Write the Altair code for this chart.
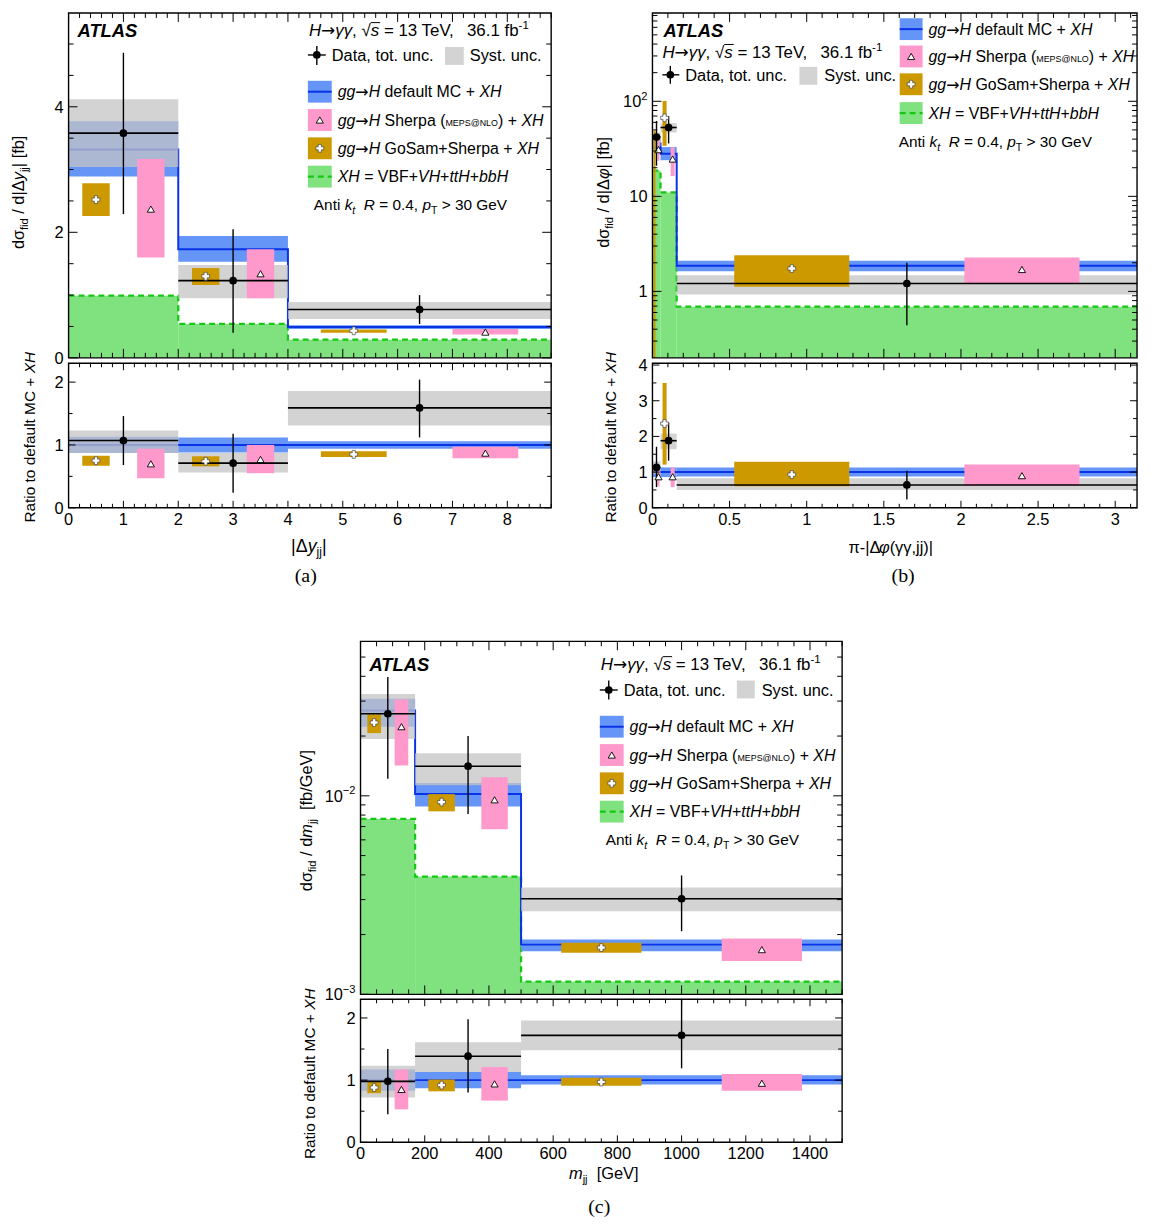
import math
import numpy as np
import pandas as pd
import altair as alt

# ====================== DATA ======================
# ---- (a) |Delta y_jj| ----
A_edges = [0.0, 2.0, 4.0, 8.8]
A_data = [3.58, 1.23, 0.77]
A_data_lo = [2.29, 0.40, 0.54]
A_data_hi = [4.86, 2.05, 1.00]
A_syst_lo = [3.04, 0.95, 0.62]
A_syst_hi = [4.12, 1.48, 0.89]
A_mc = [3.32, 1.73, 0.49]
A_mc_lo = [2.89, 1.53, 0.46]
A_mc_hi = [3.77, 1.94, 0.52]
A_sherpa = [2.37, 1.34, 0.41]
A_sherpa_lo = [1.60, 0.95, 0.37]
A_sherpa_hi = [3.17, 1.73, 0.46]
A_gosam = [2.52, 1.30, 0.43]
A_gosam_lo = [2.26, 1.16, 0.40]
A_gosam_hi = [2.78, 1.43, 0.45]
A_xh = [0.99, 0.54, 0.29]
A_r_data = [1.07, 0.71, 1.59]
A_r_data_lo = [0.68, 0.24, 1.12]
A_r_data_hi = [1.46, 1.18, 2.04]
A_r_syst_lo = [0.87, 0.56, 1.31]
A_r_syst_hi = [1.23, 0.87, 1.86]
A_r_mc_lo = [0.87, 0.88, 0.94]
A_r_mc_hi = [1.13, 1.12, 1.06]
A_r_sherpa = [0.70, 0.77, 0.87]
A_r_sherpa_lo = [0.47, 0.55, 0.79]
A_r_sherpa_hi = [0.94, 1.00, 0.97]
A_r_gosam = [0.75, 0.74, 0.85]
A_r_gosam_lo = [0.67, 0.66, 0.81]
A_r_gosam_hi = [0.83, 0.82, 0.90]
A_xticks = [0, 1, 2, 3, 4, 5, 6, 7, 8]
A_xlabels = ["0", "1", "2", "3", "4", "5", "6", "7", "8"]
A_yticks = [0, 2, 4]
A_ylabels = ["0", "2", "4"]
A_rticks = [0, 1, 2]
A_rlabels = ["0", "1", "2"]

# ---- (b) pi - |Delta phi(gg, jj)| ----
B_edges = [0.0, math.pi / 60, math.pi / 20, math.pi]
B_data = [42.0, 53.0, 1.21]
B_data_lo = [21.0, 36.0, 0.44]
B_data_hi = [62.0, 70.0, 2.00]
B_syst_lo = [34.0, 47.0, 0.93]
B_syst_hi = [47.0, 59.0, 1.48]
B_mc = [36.0, 28.0, 1.86]
B_mc_lo = [31.0, 24.0, 1.63]
B_mc_hi = [41.0, 33.0, 2.10]
B_sherpa = [31.0, 24.7, 1.70]
B_sherpa_lo = [23.7, 16.4, 1.21]
B_sherpa_hi = [40.0, 32.8, 2.27]
B_gosam = [None, 67.0, 1.74]
B_gosam_lo = [0.2, 34.0, 1.12]
B_gosam_hi = [49.0, 101.0, 2.40]
B_xh = [18.6, 11.0, 0.69]
B_r_data = [1.13, 1.88, 0.64]
B_r_data_lo = [0.58, 1.32, 0.23]
B_r_data_hi = [1.71, 2.39, 1.04]
B_r_syst_lo = [0.95, 1.64, 0.50]
B_r_syst_hi = [1.30, 2.08, 0.83]
B_r_mc_lo = [0.86, 0.86, 0.88]
B_r_mc_hi = [1.13, 1.13, 1.13]
B_r_sherpa = [0.87, 0.87, 0.90]
B_r_sherpa_lo = [0.60, 0.58, 0.62]
B_r_sherpa_hi = [1.09, 1.13, 1.21]
B_r_gosam = [None, 2.36, 0.93]
B_r_gosam_lo = [None, 1.21, 0.60]
B_r_gosam_hi = [None, 3.50, 1.29]
B_xticks = [0, 0.5, 1, 1.5, 2, 2.5, 3]
B_xlabels = ["0", "0.5", "1", "1.5", "2", "2.5", "3"]
B_yticks = [1, 10, 100]
B_ylab_base = ["1", "10", "10"]
B_ylab_exp = ["", "", "2"]
B_rticks = [0, 1, 2, 3, 4]
B_rlabels = ["0", "1", "2", "3", "4"]

# ---- (c) m_jj ----
C_edges = [0.0, 170.0, 500.0, 1500.0]
C_data = [0.0259, 0.0141, 0.00303]
C_data_lo = [0.0122, 0.0081, 0.00208]
C_data_hi = [0.0397, 0.0200, 0.00397]
C_syst_lo = [0.0193, 0.0113, 0.00262]
C_syst_hi = [0.0326, 0.0164, 0.00345]
C_mc = [0.0269, 0.0102, 0.00178]
C_mc_lo = [0.0223, 0.00884, 0.00165]
C_mc_hi = [0.0308, 0.0116, 0.00189]
C_sherpa = [0.0223, 0.00955, 0.00168]
C_sherpa_lo = [0.0142, 0.00678, 0.00147]
C_sherpa_hi = [0.0306, 0.0124, 0.00191]
C_gosam = [0.0234, 0.0093, 0.00172]
C_gosam_lo = [0.0207, 0.00835, 0.00162]
C_gosam_hi = [0.0257, 0.0102, 0.00182]
C_xh = [0.00765, 0.00392, 0.00116]
C_r_data = [0.98, 1.385, 1.72]
C_r_data_lo = [0.45, 0.80, 1.19]
C_r_data_hi = [1.50, 1.98, 2.31]
C_r_syst_lo = [0.72, 1.13, 1.48]
C_r_syst_hi = [1.23, 1.61, 1.96]
C_r_mc_lo = [0.83, 0.87, 0.93]
C_r_mc_hi = [1.17, 1.13, 1.08]
C_r_sherpa = [0.85, 0.94, 0.95]
C_r_sherpa_lo = [0.53, 0.67, 0.83]
C_r_sherpa_hi = [1.17, 1.21, 1.10]
C_r_gosam = [0.88, 0.92, 0.97]
C_r_gosam_lo = [0.79, 0.82, 0.91]
C_r_gosam_hi = [0.97, 1.01, 1.04]
C_xticks = [0, 200, 400, 600, 800, 1000, 1200, 1400]
C_xlabels = ["0", "200", "400", "600", "800", "1000", "1200", "1400"]
C_yticks = [0.001, 0.01]
C_ylab_base = ["10", "10"]
C_ylab_exp = ["\u22123", "\u22122"]
C_rticks = [0, 1, 2]
C_rlabels = ["0", "1", "2"]

MC_RATIO = [1.0, 1.0, 1.0]

# ====================== STYLE ======================
FONT = "Liberation Sans"
SERIF = "Liberation Serif"
ARROWFONT = "DejaVu Sans"
FS = 16.5
LFS = 16.0
BLUE_BAND = "#6495f7"
BLUE_LINE = "#0a32e6"
GRAY = "#c4c4c4"
PINK = "#ff99cc"
GOLD = "#cc9900"
GREEN_FILL = "#80e27e"
GREEN_LINE = "#14c814"
TRI_SIZE = 52
CROSS_SIZE = 62

OX, OY = 8.0, 8.0  # reference-page pixel -> view pixel


def px(x):
    return x - OX


def py(y):
    return y - OY


DUMMY = pd.DataFrame({"d": [0]})
LAYERS = []

CW = {' ': .278, '!': .278, '(': .333, ')': .333, '+': .584, ',': .278, '-': .333, '.': .278, '/': .278,
      '=': .584, '>': .584, '@': 1.015, '[': .278, ']': .278, '|': .26,
      'A': .667, 'B': .667, 'C': .722, 'D': .722, 'E': .667, 'F': .611, 'G': .778, 'H': .722, 'I': .278,
      'J': .5, 'K': .667, 'L': .556, 'M': .833, 'N': .722, 'O': .778, 'P': .667, 'Q': .778, 'R': .722,
      'S': .667, 'T': .611, 'U': .722, 'V': .667, 'W': .944, 'X': .667, 'Y': .667, 'Z': .611,
      'a': .556, 'b': .556, 'c': .5, 'd': .556, 'e': .556, 'f': .278, 'g': .556, 'h': .556, 'i': .222,
      'j': .222, 'k': .5, 'l': .222, 'm': .833, 'n': .556, 'o': .556, 'p': .556, 'q': .556, 'r': .333,
      's': .5, 't': .278, 'u': .556, 'v': .5, 'w': .722, 'x': .5, 'y': .5, 'z': .5,
      '\u2192': .838, '\u03b3': .5, '\u03c3': .6, '\u0394': .668, '\u03c6': .65, '\u03c0': .6,
      '\u221a': .549, '\u2212': .584}


def tw(s, fs):
    return sum(CW.get(c, .556) for c in s) * fs


KIND = {
    "n": (1.0, 0.0, "normal", "normal"),
    "arr": (1.0, 0.0, "normal", "normal"),
    "i": (1.0, 0.0, "italic", "normal"),
    "bi": (1.0, 0.0, "italic", "bold"),
    "sub": (0.68, 0.25, "normal", "normal"),
    "subi": (0.68, 0.25, "italic", "normal"),
    "sup": (0.68, -0.42, "normal", "normal"),
    "sc": (0.56, 0.0, "normal", "normal"),
}


def T(s, x, y, fs, style="normal", weight="normal", angle=0, font=FONT):
    kw = dict(text=s, font=font, fontSize=fs, fontStyle=style, fontWeight=weight,
              align="left", baseline="alphabetic", color="black")
    if angle:
        kw["angle"] = angle
    return alt.Chart(DUMMY).mark_text(**kw).encode(x=alt.value(px(x)), y=alt.value(py(y)))


def rich(segs, x, y, size, anchor="left", rotate=False, font=FONT):
    """Lay out a line of mixed-style text. Returns (start, width) of each piece."""
    total = sum(tw(s, size * KIND[k][0]) for s, k in segs)
    shift = {"left": 0.0, "center": total / 2, "right": total}[anchor]
    starts = []
    if not rotate:
        cx = x - shift
        base = y + 0.355 * size
    else:
        cy = y + shift
        base = x + 0.355 * size
    for s, k in segs:
        r, d, st, wt = KIND[k]
        fs = size * r
        f = ARROWFONT if k == "arr" else font
        lead = len(s) - len(s.lstrip(" "))
        if not rotate:
            starts.append((cx, tw(s, fs)))
            if s.strip():
                LAYERS.append(T(s.strip(), cx + lead * CW[" "] * fs, base + d * size, fs, st, wt, font=f))
            cx += tw(s, fs)
        else:
            if s.strip():
                LAYERS.append(T(s.strip(), base + d * size, cy - lead * CW[" "] * fs, fs, st, wt,
                                angle=270, font=f))
            cy -= tw(s, fs)
    return starts


def make_scales(xdom, rect, ydom, log=False):
    xs = alt.Scale(domain=xdom, range=[px(rect[0]), px(rect[2])], nice=False, zero=False, clamp=True)
    if log:
        ys = alt.Scale(type="log", domain=ydom, range=[py(rect[3]), py(rect[1])], nice=False, clamp=True)
    else:
        ys = alt.Scale(domain=ydom, range=[py(rect[3]), py(rect[1])], nice=False, zero=False, clamp=True)
    return xs, ys


def hist_layers(edges, xs, ys, rect, v, xh=None, mc_line=None):
    e = np.asarray(edges, dtype=float)
    w = np.diff(e)
    df = pd.DataFrame({"x0": e[:-1], "x1": e[1:], "xc": e[:-1] + w / 2,
                       "g0": e[:-1] + 0.125 * w, "g1": e[:-1] + 0.375 * w, "gc": e[:-1] + 0.25 * w,
                       "p0": e[:-1] + 0.625 * w, "p1": e[:-1] + 0.875 * w, "pc": e[:-1] + 0.75 * w})
    for k, arr in v.items():
        df[k] = np.array([np.nan if a is None else a for a in arr], dtype=float)

    def sub(cols):
        return df[cols].dropna()

    def XX(f):
        return alt.X(f"{f}:Q", scale=xs, axis=None)

    def YY(f):
        return alt.Y(f"{f}:Q", scale=ys, axis=None)

    bottom = py(rect[3])
    if xh is not None:
        df["xh"] = xh
        LAYERS.append(alt.Chart(sub(["x0", "x1", "xh"])).mark_rect(color=GREEN_FILL).encode(
            x=XX("x0"), x2="x1", y=YY("xh"), y2=alt.value(bottom)))
        st = pd.DataFrame({"e": e, "v": list(xh) + [xh[-1]]})
        LAYERS.append(alt.Chart(st).mark_line(interpolate="step-after", color=GREEN_LINE, strokeWidth=2.3,
                                              strokeDash=[6, 4]).encode(x=XX("e"), y=YY("v")))
    LAYERS.append(alt.Chart(sub(["x0", "x1", "mlo", "mhi"])).mark_rect(color=BLUE_BAND).encode(
        x=XX("x0"), x2="x1", y=YY("mlo"), y2="mhi"))
    st = pd.DataFrame({"e": e, "v": list(mc_line) + [mc_line[-1]]})
    LAYERS.append(alt.Chart(st).mark_line(interpolate="step-after", color=BLUE_LINE, strokeWidth=2).encode(
        x=XX("e"), y=YY("v")))
    LAYERS.append(alt.Chart(sub(["x0", "x1", "slo", "shi"])).mark_rect(color=GRAY, opacity=0.75).encode(
        x=XX("x0"), x2="x1", y=YY("slo"), y2="shi"))
    LAYERS.append(alt.Chart(sub(["g0", "g1", "glo", "ghi"])).mark_rect(color=GOLD).encode(
        x=XX("g0"), x2="g1", y=YY("glo"), y2="ghi"))
    LAYERS.append(alt.Chart(sub(["p0", "p1", "plo", "phi"])).mark_rect(color=PINK).encode(
        x=XX("p0"), x2="p1", y=YY("plo"), y2="phi"))
    LAYERS.append(alt.Chart(sub(["x0", "x1", "d"])).mark_rule(color="black", strokeWidth=1.6).encode(
        x=XX("x0"), x2="x1", y=YY("d")))
    LAYERS.append(alt.Chart(sub(["xc", "dlo", "dhi"])).mark_rule(color="black", strokeWidth=1.4).encode(
        x=XX("xc"), y=YY("dlo"), y2="dhi"))
    LAYERS.append(alt.Chart(sub(["gc", "g"])).mark_point(shape="cross", filled=True, fill="white",
                                                         stroke="#444444", strokeWidth=0.7, size=CROSS_SIZE,
                                                         opacity=1).encode(x=XX("gc"), y=YY("g")))
    LAYERS.append(alt.Chart(sub(["pc", "p"])).mark_point(shape="triangle-up", filled=True, fill="white",
                                                         stroke="black", strokeWidth=0.9, size=TRI_SIZE,
                                                         opacity=1).encode(x=XX("pc"), y=YY("p")))
    LAYERS.append(alt.Chart(sub(["xc", "d"])).mark_circle(color="black", size=60, opacity=1).encode(
        x=XX("xc"), y=YY("d")))


def frame_and_ticks(xs, ys, rect, xmaj, xmin, ymaj, ymin, lmaj, lmin):
    x0, y0, x1, y1 = px(rect[0]), py(rect[1]), px(rect[2]), py(rect[3])
    for vals, L in ((xmaj, lmaj), (xmin, lmin)):
        d = pd.DataFrame({"t": vals})
        LAYERS.append(alt.Chart(d).mark_rule(color="black", strokeWidth=1).encode(
            x=alt.X("t:Q", scale=xs, axis=None), y=alt.value(y1), y2=alt.value(y1 - L)))
        LAYERS.append(alt.Chart(d).mark_rule(color="black", strokeWidth=1).encode(
            x=alt.X("t:Q", scale=xs, axis=None), y=alt.value(y0), y2=alt.value(y0 + L)))
    for vals, L in ((ymaj, lmaj), (ymin, lmin)):
        d = pd.DataFrame({"t": vals})
        LAYERS.append(alt.Chart(d).mark_rule(color="black", strokeWidth=1).encode(
            y=alt.Y("t:Q", scale=ys, axis=None), x=alt.value(x0), x2=alt.value(x0 + L)))
        LAYERS.append(alt.Chart(d).mark_rule(color="black", strokeWidth=1).encode(
            y=alt.Y("t:Q", scale=ys, axis=None), x=alt.value(x1 - L), x2=alt.value(x1)))
    LAYERS.append(alt.Chart(DUMMY).mark_rect(fillOpacity=0, stroke="black", strokeWidth=1.4).encode(
        x=alt.value(x0), x2=alt.value(x1), y=alt.value(y0), y2=alt.value(y1)))


def xlabels(xs, rect, ticks, labels):
    d = pd.DataFrame({"t": ticks, "lab": labels})
    LAYERS.append(alt.Chart(d).mark_text(font=FONT, fontSize=FS, align="center", baseline="alphabetic",
                                         color="black").encode(
        x=alt.X("t:Q", scale=xs, axis=None), y=alt.value(py(rect[3] + 11 + 0.355 * FS)), text="lab:N"))


def ylabels(ys, rect, ticks, labels):
    d = pd.DataFrame({"t": ticks, "lab": labels})
    LAYERS.append(alt.Chart(d).mark_text(font=FONT, fontSize=FS, align="right", baseline="alphabetic",
                                         dy=0.355 * FS, color="black").encode(
        x=alt.value(px(rect[0] - 5)), y=alt.Y("t:Q", scale=ys, axis=None), text="lab:N"))


def ylabels_exp(ys, rect, ticks, bases, exps):
    for t, b, ex in zip(ticks, bases, exps):
        d = pd.DataFrame({"t": [t]})
        wexp = tw(ex, FS * 0.68)
        xr = px(rect[0] - 5 - wexp)
        LAYERS.append(alt.Chart(d).mark_text(text=b, font=FONT, fontSize=FS, align="right",
                                             baseline="alphabetic", dy=0.355 * FS, color="black").encode(
            x=alt.value(xr), y=alt.Y("t:Q", scale=ys, axis=None)))
        if ex:
            LAYERS.append(alt.Chart(d).mark_text(text=ex, font=FONT, fontSize=FS * 0.68, align="left",
                                                 baseline="alphabetic", dy=-0.1 * FS, color="black").encode(
                x=alt.value(xr), y=alt.Y("t:Q", scale=ys, axis=None)))


def minor(lo, hi, step, major):
    vals = np.round(np.arange(lo, hi + 1e-9, step), 6)
    return [float(v) for v in vals if not any(abs(v - m) < 1e-9 for m in major)]


def log_minor(lo, hi):
    out = []
    for k in range(-4, 4):
        for m in range(2, 10):
            v = m * 10.0 ** k
            if lo < v < hi:
                out.append(v)
    return out


def legend_models(x0, x1, ys_c, tx, half=11):
    cols = [BLUE_BAND, PINK, GOLD, GREEN_FILL]
    for c, yc in zip(cols, ys_c):
        LAYERS.append(alt.Chart(DUMMY).mark_rect(color=c).encode(
            x=alt.value(px(x0)), x2=alt.value(px(x1)), y=alt.value(py(yc - half)), y2=alt.value(py(yc + half))))
    xm = (x0 + x1) / 2
    LAYERS.append(alt.Chart(DUMMY).mark_rule(color=BLUE_LINE, strokeWidth=2).encode(
        x=alt.value(px(x0)), x2=alt.value(px(x1)), y=alt.value(py(ys_c[0]))))
    LAYERS.append(alt.Chart(DUMMY).mark_point(shape="triangle-up", filled=True, fill="white", stroke="black",
                                              strokeWidth=0.9, size=TRI_SIZE, opacity=1).encode(
        x=alt.value(px(xm)), y=alt.value(py(ys_c[1]))))
    LAYERS.append(alt.Chart(DUMMY).mark_point(shape="cross", filled=True, fill="white", stroke="#444444",
                                              strokeWidth=0.7, size=CROSS_SIZE, opacity=1).encode(
        x=alt.value(px(xm)), y=alt.value(py(ys_c[2]))))
    LAYERS.append(alt.Chart(DUMMY).mark_rule(color=GREEN_LINE, strokeWidth=2.3, strokeDash=[6, 4]).encode(
        x=alt.value(px(x0)), x2=alt.value(px(x1)), y=alt.value(py(ys_c[3]))))
    texts = [
        [("gg", "i"), ("\u2192", "arr"), ("H", "i"), (" default MC + ", "n"), ("XH", "i")],
        [("gg", "i"), ("\u2192", "arr"), ("H", "i"), (" Sherpa (", "n"), ("MEPS@NLO", "sc"), (") + ", "n"),
         ("XH", "i")],
        [("gg", "i"), ("\u2192", "arr"), ("H", "i"), (" GoSam+Sherpa + ", "n"), ("XH", "i")],
        [("XH", "i"), (" = VBF+", "n"), ("VH", "i"), ("+", "n"), ("ttH", "i"), ("+", "n"), ("bbH", "i")],
    ]
    for segs, yc in zip(texts, ys_c):
        rich(segs, tx, yc, LFS)


def legend_data(cx, cy, hx0, hx1, vy0, vy1, tx, bx0, bx1, by0, by1, stx):
    LAYERS.append(alt.Chart(DUMMY).mark_rule(color="black", strokeWidth=1.4).encode(
        x=alt.value(px(hx0)), x2=alt.value(px(hx1)), y=alt.value(py(cy))))
    LAYERS.append(alt.Chart(DUMMY).mark_rule(color="black", strokeWidth=1.4).encode(
        x=alt.value(px(cx)), y=alt.value(py(vy0)), y2=alt.value(py(vy1))))
    LAYERS.append(alt.Chart(DUMMY).mark_circle(color="black", size=60, opacity=1).encode(
        x=alt.value(px(cx)), y=alt.value(py(cy))))
    rich([("Data, tot. unc.", "n")], tx, cy, FS)
    LAYERS.append(alt.Chart(DUMMY).mark_rect(color=GRAY, opacity=0.75).encode(
        x=alt.value(px(bx0)), x2=alt.value(px(bx1)), y=alt.value(py(by0)), y2=alt.value(py(by1))))
    rich([("Syst. unc.", "n")], stx, cy, FS)


HEADER = [("H", "i"), ("\u2192", "arr"), ("\u03b3\u03b3", "i"), (", ", "n"), ("\u221a", "n"), ("s", "i"),
          (" = 13 TeV,", "n"), ("  36.1 fb", "n"), ("-1", "sup")]
ANTIKT = [("Anti ", "n"), ("k", "i"), ("t", "subi"), ("  ", "n"), ("R", "i"), (" = 0.4, ", "n"), ("p", "i"),
          ("T", "sub"), (" > 30 GeV", "n")]
RATIO_TITLE = [("Ratio to default MC + ", "n"), ("XH", "i")]


def header(x, yc, size=17):
    starts = rich(HEADER, x, yc, size)
    sx, sw = starts[5]          # the "s" under the square root
    top = yc + 0.355 * size - 0.80 * size
    LAYERS.append(alt.Chart(DUMMY).mark_rule(color="black", strokeWidth=1).encode(
        x=alt.value(px(sx)), x2=alt.value(px(sx + sw + 1)), y=alt.value(py(top))))


def panel(edges, xdom, mrect, rrect, ydom, ylog, rdom, main_v, ratio_v, xh, mc):
    xs, ys = make_scales(xdom, mrect, ydom, ylog)
    hist_layers(edges, xs, ys, mrect, main_v, xh=xh, mc_line=mc)
    xr, yr = make_scales(xdom, rrect, rdom, False)
    hist_layers(edges, xr, yr, rrect, ratio_v, xh=None, mc_line=MC_RATIO)
    return xs, ys, xr, yr


def vals(d, dlo, dhi, slo, shi, mlo, mhi, p, plo, phi, g, glo, ghi):
    return {"d": d, "dlo": dlo, "dhi": dhi, "slo": slo, "shi": shi, "mlo": mlo, "mhi": mhi,
            "p": p, "plo": plo, "phi": phi, "g": g, "glo": glo, "ghi": ghi}


# ====================== PANEL (a) ======================
A_main = (69, 8.7, 555, 356)
A_rat = (69, 361.5, 555, 507)
xs, ys, xr, yr = panel(A_edges, [0, 8.8], A_main, A_rat, [0, 5.495], False, [0, 2.3],
                       vals(A_data, A_data_lo, A_data_hi, A_syst_lo, A_syst_hi, A_mc_lo, A_mc_hi,
                            A_sherpa, A_sherpa_lo, A_sherpa_hi, A_gosam, A_gosam_lo, A_gosam_hi),
                       vals(A_r_data, A_r_data_lo, A_r_data_hi, A_r_syst_lo, A_r_syst_hi, A_r_mc_lo, A_r_mc_hi,
                            A_r_sherpa, A_r_sherpa_lo, A_r_sherpa_hi, A_r_gosam, A_r_gosam_lo, A_r_gosam_hi),
                       A_xh, A_mc)
a_xmin = minor(0, 8.8, 0.2, A_xticks)
frame_and_ticks(xs, ys, A_main, A_xticks, a_xmin, A_yticks, minor(0, 5.4, 0.5, A_yticks), 9, 5)
frame_and_ticks(xr, yr, A_rat, A_xticks, a_xmin, A_rticks, minor(0, 2.3, 0.5, A_rticks), 7, 4)
xlabels(xr, A_rat, A_xticks, A_xlabels)
ylabels(ys, A_main, A_yticks, A_ylabels)
ylabels(yr, A_rat, A_rticks, A_rlabels)
LAYERS.append(T("ATLAS", 78, 26 + 0.355 * 18.5, 18.5, "italic", "bold"))
header(311, 26)
legend_data(319, 51, 310, 328, 42, 61, 334, 448, 467, 43, 61, 473)
legend_models(310, 334, [88, 116.5, 145, 173.5], 340)
rich(ANTIKT, 316, 202, 15.5)
rich([("d\u03c3", "n"), ("fid", "sub"), (" / d|\u0394", "n"), ("y", "i"), ("jj", "sub"), ("|  [fb]", "n")],
     18, 187, FS, anchor="center", rotate=True)
rich(RATIO_TITLE, 30, 436, 15.5, anchor="center", rotate=True)
rich([("|\u0394", "n"), ("y", "i"), ("jj", "sub"), ("|", "n")], 311, 545, 18, anchor="center")
rich([("(a)", "n")], 309, 575, 20, anchor="center", font=SERIF)

# ====================== PANEL (b) ======================
B_main = (657, 8.7, 1145, 356)
B_rat = (657, 361.5, 1145, 507)
xs, ys, xr, yr = panel(B_edges, [0, math.pi], B_main, B_rat, [0.2, 850], True, [0, 4.05],
                       vals(B_data, B_data_lo, B_data_hi, B_syst_lo, B_syst_hi, B_mc_lo, B_mc_hi,
                            B_sherpa, B_sherpa_lo, B_sherpa_hi, B_gosam, B_gosam_lo, B_gosam_hi),
                       vals(B_r_data, B_r_data_lo, B_r_data_hi, B_r_syst_lo, B_r_syst_hi, B_r_mc_lo, B_r_mc_hi,
                            B_r_sherpa, B_r_sherpa_lo, B_r_sherpa_hi, B_r_gosam, B_r_gosam_lo, B_r_gosam_hi),
                       B_xh, B_mc)
b_xmin = minor(0, 3.1, 0.1, B_xticks)
frame_and_ticks(xs, ys, B_main, B_xticks, b_xmin, B_yticks, log_minor(0.2, 850), 9, 5)
frame_and_ticks(xr, yr, B_rat, B_xticks, b_xmin, B_rticks, minor(0, 4.0, 0.5, B_rticks), 7, 4)
xlabels(xr, B_rat, B_xticks, B_xlabels)
ylabels_exp(ys, B_main, B_yticks, B_ylab_base, B_ylab_exp)
ylabels(yr, B_rat, B_rticks, B_rlabels)
LAYERS.append(T("ATLAS", 668, 26 + 0.355 * 18.5, 18.5, "italic", "bold"))
header(667, 48)
legend_data(675, 71, 667, 684, 62, 80, 690, 805, 823, 63, 81, 830)
legend_models(906, 929, [25, 52.5, 80.5, 109.5], 935)
rich(ANTIKT, 905, 138, 15.5)
rich([("d\u03c3", "n"), ("fid", "sub"), (" / d|\u0394", "n"), ("\u03c6", "i"), ("|  [fb]", "n")],
     607, 187, FS, anchor="center", rotate=True)
rich(RATIO_TITLE, 615, 436, 15.5, anchor="center", rotate=True)
rich([("\u03c0-|\u0394", "n"), ("\u03c6", "i"), ("(\u03b3\u03b3,jj)|", "n")], 897, 547, 16.5, anchor="center")
rich([("(b)", "n")], 910, 575, 20, anchor="center", font=SERIF)

# ====================== PANEL (c) ======================
C_main = (363, 641.5, 848, 997)
C_rat = (363, 1002, 848, 1146)
xs, ys, xr, yr = panel(C_edges, [0, 1500], C_main, C_rat, [0.001, 0.06], True, [0, 2.3],
                       vals(C_data, C_data_lo, C_data_hi, C_syst_lo, C_syst_hi, C_mc_lo, C_mc_hi,
                            C_sherpa, C_sherpa_lo, C_sherpa_hi, C_gosam, C_gosam_lo, C_gosam_hi),
                       vals(C_r_data, C_r_data_lo, C_r_data_hi, C_r_syst_lo, C_r_syst_hi, C_r_mc_lo, C_r_mc_hi,
                            C_r_sherpa, C_r_sherpa_lo, C_r_sherpa_hi, C_r_gosam, C_r_gosam_lo, C_r_gosam_hi),
                       C_xh, C_mc)
c_xmin = minor(0, 1500, 50, C_xticks)
frame_and_ticks(xs, ys, C_main, C_xticks, c_xmin, C_yticks, log_minor(0.001, 0.06), 9, 5)
frame_and_ticks(xr, yr, C_rat, C_xticks, c_xmin, C_rticks, minor(0, 2.3, 0.5, C_rticks), 7, 4)
xlabels(xr, C_rat, C_xticks, C_xlabels)
ylabels_exp(ys, C_main, C_yticks, C_ylab_base, C_ylab_exp)
ylabels(yr, C_rat, C_rticks, C_rlabels)
LAYERS.append(T("ATLAS", 372, 664.5 + 0.355 * 18.5, 18.5, "italic", "bold"))
header(605, 664.5)
legend_data(613, 690.5, 604, 622, 681, 700, 628, 742, 760, 681, 699, 767)
legend_models(604, 628, [727.5, 756, 784.5, 813], 634)
rich(ANTIKT, 610, 841, 15.5)
rich([("d\u03c3", "n"), ("fid", "sub"), (" / d", "n"), ("m", "i"), ("jj", "sub"), ("  [fb/GeV]", "n")],
     308, 822, FS, anchor="center", rotate=True)
rich(RATIO_TITLE, 312, 1077, 15.5, anchor="center", rotate=True)
rich([("m", "i"), ("jj", "sub"), ("  [GeV]", "n")], 608, 1177, 16.5, anchor="center")
rich([("(c)", "n")], 604, 1210, 20, anchor="center", font=SERIF)

chart = alt.layer(*LAYERS).resolve_scale(x="independent", y="independent").properties(
    width=1143, height=1218, padding=0, autosize=alt.AutoSizeParams(type="none"),
).configure_view(stroke=None)

chart.save("out.html", embed_options={"renderer": "svg", "actions": False})
